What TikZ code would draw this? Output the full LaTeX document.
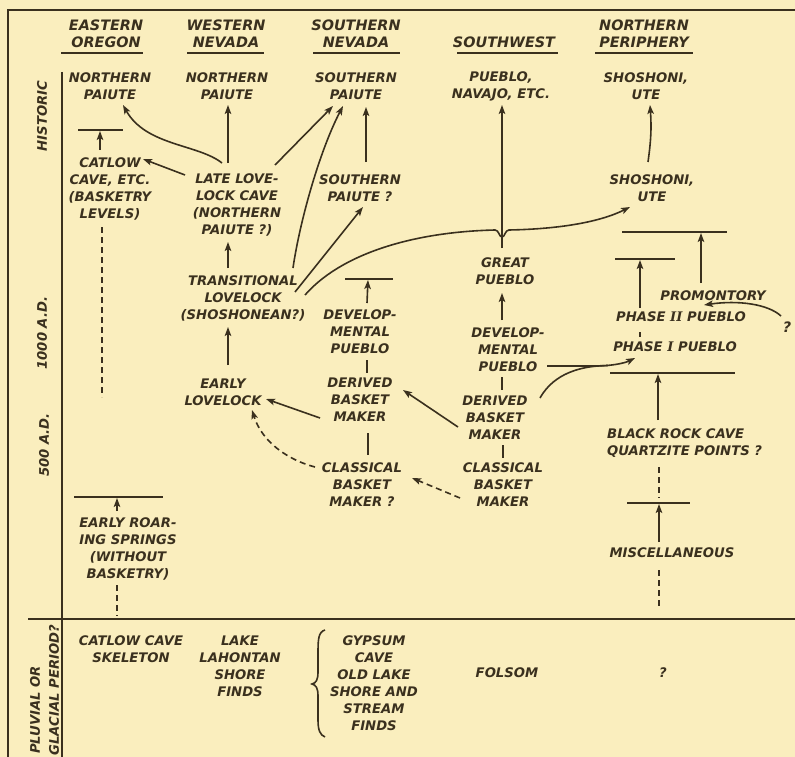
\documentclass[tikz,border=0pt]{standalone}
\usepackage{fontspec}
\setmainfont{DejaVu Sans}
\newfontfamily\romfont{DejaVu Serif}
\usetikzlibrary{arrows.meta}
\definecolor{paper}{RGB}{250,238,190}
\definecolor{ink}{RGB}{58,48,30}

\begin{document}
\begin{tikzpicture}[x=1pt,y=-1pt,
  lbl/.style={inner sep=0pt, align=center, text=ink, font=\fontsize{13.2}{17}\selectfont\bfseries\itshape},
  head/.style={lbl, font=\fontsize{14.4}{17}\selectfont\bfseries\itshape},
  lblleft/.style={lbl, align=left, anchor=west},
  side/.style={lbl, rotate=90},
  frame/.style={draw=ink, line width=2.4pt},
  rule/.style={draw=ink, line width=1.8pt},
  arr/.style={draw=ink, line width=1.6pt, -{Stealth[length=9pt,width=6.5pt,inset=2pt]}},
  link/.style={draw=ink, line width=1.6pt},
  dashline/.style={draw=ink, line width=1.6pt, dash pattern=on 6pt off 4pt},
  dasharr/.style={arr, dash pattern=on 6pt off 4pt},
]
\fill[paper] (0,0) rectangle (795,757);
\useasboundingbox (0,0) rectangle (795,757);

% ---------- frame ----------
\draw[frame] (8,757) -- (8,10) -- (795,10);
\draw[rule] (62,72) -- (62,757);
\draw[frame] (28,619) -- (795,619);

% ---------- period labels ----------
\node[side] (pHist) at (42,116) {HISTORIC};
\node[side] (p1000) at (42,333) {1000 A.D.};
\node[side] (p500)  at (44,445) {500 A.D.};
\node[side] (pPluv1) at (35,710) {PLUVIAL OR};
\node[side] (pPluv2) at (54,690) {GLACIAL PERIOD?};

% ---------- column headings ----------
\node[head] (hEO) at (106,34) {EASTERN\\OREGON};
\node[head] (hWN) at (226,34) {WESTERN\\NEVADA};
\node[head] (hSN) at (356,34) {SOUTHERN\\NEVADA};
\node[head] (hSW) at (504,42) {SOUTHWEST};
\node[head] (hNP) at (644,34) {NORTHERN\\PERIPHERY};
\draw[rule] (61,53) -- (143,53);
\draw[rule] (187,53) -- (264,53);
\draw[rule] (313,53) -- (400,53);
\draw[rule] (457,53) -- (558,53);
\draw[rule] (595,53) -- (693,53);

% ---------- Eastern Oregon entries ----------
\node[lbl] (eoNP)  at (110,86)  {NORTHERN\\PAIUTE};
\node[lbl] (eoCat) at (110,189) {CATLOW\\CAVE, ETC.\\(BASKETRY\\LEVELS)};
\node[lbl] (eoER)  at (128,549) {EARLY ROAR-\\ING SPRINGS\\(WITHOUT\\BASKETRY)};
\node[lbl] (eoCS)  at (131,649) {CATLOW CAVE\\SKELETON};

% ---------- Western Nevada entries ----------
\node[lbl] (wnNP)    at (227,86)  {NORTHERN\\PAIUTE};
\node[lbl] (wnLate)  at (237,205) {LATE LOVE-\\LOCK CAVE\\(NORTHERN\\PAIUTE ?)};
\node[lbl] (wnTrans) at (243,298) {TRANSITIONAL\\LOVELOCK\\(SHOSHONEAN?)};
\node[lbl] (wnEarly) at (223,392) {EARLY\\LOVELOCK};
\node[lbl] (wnLake)  at (240,666) {LAKE\\LAHONTAN\\SHORE\\FINDS};

% ---------- Southern Nevada entries ----------
\node[lbl] (snSP)  at (356,86)  {SOUTHERN\\PAIUTE};
\node[lbl] (snSPq) at (360,188) {SOUTHERN\\PAIUTE ?};
\node[lbl] (snDev) at (360,332) {DEVELOP-\\MENTAL\\PUEBLO};
\node[lbl] (snDer) at (360,400) {DERIVED\\BASKET\\MAKER};
\node[lbl] (snCla) at (362,485) {CLASSICAL\\BASKET\\MAKER ?};
\node[lbl] (snGyp) at (374,683) {GYPSUM\\CAVE\\OLD LAKE\\SHORE AND\\STREAM\\FINDS};

% ---------- Southwest entries ----------
\node[lbl] (swPN)    at (501,86)  {PUEBLO,\\NAVAJO, ETC.};
\node[lbl] (swGreat) at (505,271) {GREAT\\PUEBLO};
\node[lbl] (swDev)   at (508,350) {DEVELOP-\\MENTAL\\PUEBLO};
\node[lbl] (swDer)   at (495,418) {DERIVED\\BASKET\\MAKER};
\node[lbl] (swCla)   at (503,485) {CLASSICAL\\BASKET\\MAKER};
\node[lbl] (swFol)   at (507,673) {FOLSOM};

% ---------- Northern Periphery entries ----------
\node[lbl] (npSU)   at (646,86)  {SHOSHONI,\\UTE};
\node[lbl] (npSU2)  at (652,188) {SHOSHONI,\\UTE};
\node[lbl] (npPro)  at (713,296) {PROMONTORY};
\node[lbl] (npPh2)  at (681,317) {PHASE {\romfont II} PUEBLO};
\node[lbl] (npPh1)  at (675,347) {PHASE {\romfont I} PUEBLO};
\node[head] (npQ)   at (787,327) {?};
\node[lblleft] (npBR) at (607,443) {BLACK ROCK CAVE\\QUARTZITE POINTS ?};
\node[lbl] (npMisc) at (672,553) {MISCELLANEOUS};
\node[lbl] (npQ2)   at (663,673) {?};

% ---------- horizon bars ----------
\coordinate (eoBar1) at (100,130);
\coordinate (eoBar2) at (117,497);
\coordinate (snBar)  at (368,279);
\coordinate (npBar1) at (701,232);
\coordinate (npBar2) at (640,259);
\coordinate (npBar3) at (658,373);
\coordinate (npBar4) at (659,503);
\draw[rule] (78,130) -- (123,130);
\draw[rule] (74,497) -- (163,497);
\draw[rule] (345,279) -- (393,279);
\draw[rule] (622,232) -- (727,232);
\draw[rule] (615,259) -- (675,259);
\draw[rule] (610,373) -- (735,373);
\draw[rule] (627,503) -- (690,503);

% ---------- Eastern Oregon connectors ----------
\draw[arr, shorten >=1pt] ([shift={(-10,-39)}]eoCat.center) -- (eoBar1);
\draw[arr, shorten >=1pt] ([shift={(-11,-38)}]eoER.center) -- (eoBar2);
\draw[dashline] ([shift={(-8,38)}]eoCat.center) -- ++(0,170);
\draw[dashline] ([shift={(-11,36)}]eoER.center) -- ++(0,31);

% ---------- Western Nevada connectors ----------
\draw[arr] ([shift={(-9,-42)}]wnLate.center) -- ([shift={(1,19)}]wnNP.center);
\draw[arr] ([shift={(-52,-30)}]wnLate.center) -- ([shift={(33,-30)}]eoCat.center);
\draw[arr] ([shift={(-15,-42)}]wnLate.center)
   .. controls (198,144) and (146,146) .. ([shift={(13,19)}]eoNP.center);
\draw[arr] ([shift={(38,-40)}]wnLate.center) -- ([shift={(-23,20)}]snSP.center);
\draw[arr] ([shift={(-15,-30)}]wnTrans.center) -- ([shift={(-9,37)}]wnLate.center);
\draw[arr] ([shift={(50,-30)}]wnTrans.center)
   .. controls (300,220) and (320,150) .. ([shift={(-13,20)}]snSP.center);
\draw[arr] ([shift={(52,-6)}]wnTrans.center) -- ([shift={(3,19)}]snSPq.center);
\draw[arr] ([shift={(62,-3)}]wnTrans.center)
   .. controls (340,255) and (410,232) .. (495,230)
   .. controls (499,230) and (499,237) .. (502,237)
   .. controls (505,237) and (505,230) .. (509,230)
   .. controls (560,229) and (600,222) .. ([shift={(-22,19)}]npSU2.center);
\draw[arr] ([shift={(5,-27)}]wnEarly.center) -- ([shift={(-15,29)}]wnTrans.center);

% ---------- Southern Nevada connectors ----------
\draw[arr] ([shift={(6,-26)}]snSPq.center) -- ([shift={(10,21)}]snSP.center);
\draw[arr, shorten >=1pt] ([shift={(7,-29)}]snDev.center) -- (snBar);
\draw[link] ([shift={(7,28)}]snDev.center) -- ([shift={(7,-27)}]snDer.center);
\draw[link] ([shift={(8,33)}]snDer.center) -- ([shift={(6,-30)}]snCla.center);
\draw[arr] ([shift={(-40,18)}]snDer.center) -- ([shift={(43,7)}]wnEarly.center);
\draw[dasharr] ([shift={(-47,-18)}]snCla.center)
   .. controls (288,460) and (262,442) .. ([shift={(29,18)}]wnEarly.center);

% brace in front of the Gypsum Cave finds
\draw[ink, line width=1.6pt] (325,630)
   .. controls (318,632) and (318,640) .. (318,655) -- (318,672)
   .. controls (318,680) and (316,683) .. (312,684)
   .. controls (316,685) and (318,688) .. (318,696) -- (318,720)
   .. controls (318,730) and (320,735) .. (325,737);

% ---------- Southwest connectors ----------
\draw[arr] ([shift={(-3,-23)}]swGreat.center) -- ([shift={(1,19)}]swPN.center);
\draw[arr] ([shift={(-6,-30)}]swDev.center) -- ([shift={(-3,22)}]swGreat.center);
\draw[link] ([shift={(-6,27)}]swDev.center) -- ([shift={(7,-28)}]swDer.center);
\draw[link] ([shift={(8,27)}]swDer.center) -- ([shift={(0,-27)}]swCla.center);
\draw[arr] ([shift={(-37,9)}]swDer.center) -- ([shift={(43,-10)}]snDer.center);
\draw[dasharr] ([shift={(-43,13)}]swCla.center) -- ([shift={(50,-7)}]snCla.center);
\draw[arr] ([shift={(39,16)}]swDev.center) -- (595,366)
   .. controls (612,366) and (625,363) .. ([shift={(-40,11)}]npPh1.center);
\draw[link] ([shift={(45,-20)}]swDer.center)
   .. controls (548,384) and (565,366) .. (608,365.5);

% ---------- Northern Periphery connectors ----------
\draw[arr] ([shift={(-4,-26)}]npSU2.center) to[bend right=6] ([shift={(4,19)}]npSU.center);
\draw[arr, shorten >=1pt] ([shift={(-41,-9)}]npPh2.center) -- (npBar2);
\draw[arr, shorten >=1pt] ([shift={(-12,-13)}]npPro.center) -- (npBar1);
\draw[link] ([shift={(-41,15)}]npPh2.center) -- ([shift={(-35,-10)}]npPh1.center);
\draw[arr] ([shift={(-6,-11)}]npQ.center)
   .. controls (768,304) and (738,300) .. ([shift={(-9,9)}]npPro.center);
\draw[arr, shorten >=1pt] ([shift={(51,-23)}]npBR.west) -- (npBar3);
\draw[dashline] ([shift={(52,24)}]npBR.west) -- ++(0,31);
\draw[arr, shorten >=1pt] ([shift={(-13,-11)}]npMisc.center) -- (npBar4);
\draw[dashline] ([shift={(-13,17)}]npMisc.center) -- ++(0,38);

\end{tikzpicture}
\end{document}
